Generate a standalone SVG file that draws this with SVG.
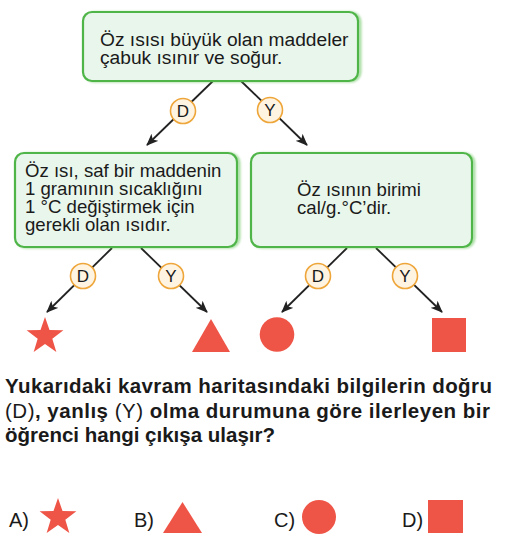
<svg xmlns="http://www.w3.org/2000/svg" width="507" height="549" viewBox="0 0 507 549">
<style>
.box{fill:#e9f6ec;stroke:#4fb548;stroke-width:2.2}
.glow{fill:none;stroke:#5cc050;stroke-width:3;opacity:.55}
.t{font-family:"Liberation Sans",Arial,sans-serif;font-size:18.6px;fill:#1a1a1a}
.tt{font-size:19.2px}
.q{font-family:"Liberation Sans",Arial,sans-serif;font-size:20.5px;font-weight:bold;fill:#1a1a1a}
.qn{font-weight:normal}
.a{font-family:"Liberation Sans",Arial,sans-serif;font-size:20px;fill:#1a1a1a}
.lab{fill:#fff4e2;stroke:#eea63a;stroke-width:1.6}
.lt{font-family:"Liberation Sans",Arial,sans-serif;font-size:17px;fill:#1a1a1a;text-anchor:middle}
.ln{stroke:#222;stroke-width:1.8;fill:none;marker-end:url(#ah)}
.red{fill:#ef5547}
</style>
<defs>
<filter id="blur" x="-10%" y="-10%" width="120%" height="120%"><feGaussianBlur stdDeviation="1.2"/></filter>
<marker id="ah" viewBox="0 0 12 10" refX="11" refY="5" markerWidth="12" markerHeight="10" markerUnits="userSpaceOnUse" orient="auto">
<path d="M0,0 L12,5 L0,10 L3,5 Z" fill="#222"/>
</marker>
<path id="star" d="M0,-19.3 L4.53,-6.23 L18.36,-5.96 L7.32,2.38 L11.34,15.61 L0,7.7 L-11.34,15.61 L-7.32,2.38 L-18.36,-5.96 L-4.53,-6.23 Z"/>
</defs>

<g id="connectors">
<line class="ln" x1="213" y1="81" x2="147" y2="145"/>
<line class="ln" x1="241" y1="81" x2="307" y2="145"/>
<line class="ln" x1="112" y1="248" x2="47" y2="312"/>
<line class="ln" x1="141" y1="248" x2="207" y2="312"/>
<line class="ln" x1="347" y1="248" x2="282" y2="312"/>
<line class="ln" x1="376" y1="248" x2="442" y2="312"/>
</g>

<g id="top">
<rect class="glow" x="85" y="13" width="275" height="68" rx="9" filter="url(#blur)"/>
<rect class="box" x="83" y="12" width="275" height="69" rx="9"/>
<text class="t tt" x="100" y="46">Öz ısısı büyük olan maddeler</text>
<text class="t tt" x="100" y="63.5">çabuk ısınır ve soğur.</text>
</g>

<g id="left">
<rect class="glow" x="17" y="154" width="222" height="93" rx="9" filter="url(#blur)"/>
<rect class="box" x="15" y="153" width="222" height="94" rx="9"/>
<text class="t" x="25" y="177">Öz ısı, saf bir maddenin</text>
<text class="t" x="25" y="195">1 gramının sıcaklığını</text>
<text class="t" x="25" y="213">1 °C değiştirmek için</text>
<text class="t" x="25" y="231">gerekli olan ısıdır.</text>
</g>

<g id="right">
<rect class="glow" x="253" y="154" width="221" height="93" rx="9" filter="url(#blur)"/>
<rect class="box" x="251" y="153" width="221" height="94" rx="9"/>
<text class="t" x="297" y="196">Öz ısının birimi</text>
<text class="t" x="297" y="214">cal/g.°C’dir.</text>
</g>

<g id="lab-d1"><circle class="lab" cx="183" cy="111" r="12.5"/><text class="lt" x="183" y="117">D</text></g>
<g id="lab-y1"><circle class="lab" cx="270" cy="110" r="12.5"/><text class="lt" x="270" y="116">Y</text></g>
<g id="lab-d2"><circle class="lab" cx="83" cy="276" r="12.5"/><text class="lt" x="83" y="282">D</text></g>
<g id="lab-y2"><circle class="lab" cx="171" cy="276" r="12.5"/><text class="lt" x="171" y="282">Y</text></g>
<g id="lab-d3"><circle class="lab" cx="318" cy="276" r="12.5"/><text class="lt" x="318" y="282">D</text></g>
<g id="lab-y3"><circle class="lab" cx="405" cy="276" r="12.5"/><text class="lt" x="405" y="282">Y</text></g>

<g id="out-star"><use href="#star" class="red" x="45" y="336.3"/></g>
<g id="out-tri"><polygon class="red" points="192,352 230,352 211,319"/></g>
<g id="out-circle"><circle class="red" cx="277" cy="334.5" r="17.3"/></g>
<g id="out-square"><rect class="red" x="432" y="318" width="34" height="34"/></g>

<g id="question">
<text class="q" x="5" y="393" textLength="487" lengthAdjust="spacing">Yukarıdaki kavram haritasındaki bilgilerin doğru</text>
<text class="q" x="5" y="417.5" textLength="485" lengthAdjust="spacing"><tspan class="qn">(D)</tspan>, yanlış <tspan class="qn">(Y)</tspan> olma durumuna göre ilerleyen bir</text>
<text class="q" x="5" y="442">öğrenci hangi çıkışa ulaşır?</text>
</g>

<g id="answers">
<text class="a" x="9" y="527">A)</text>
<use href="#star" class="red" x="58" y="517.3"/>
<text class="a" x="134" y="527">B)</text>
<polygon class="red" points="163,533 202,533 182.5,502"/>
<text class="a" x="274" y="527">C)</text>
<circle class="red" cx="319" cy="517" r="17"/>
<text class="a" x="402" y="527">D)</text>
<rect class="red" x="428" y="500" width="35" height="33"/>
</g>
</svg>
